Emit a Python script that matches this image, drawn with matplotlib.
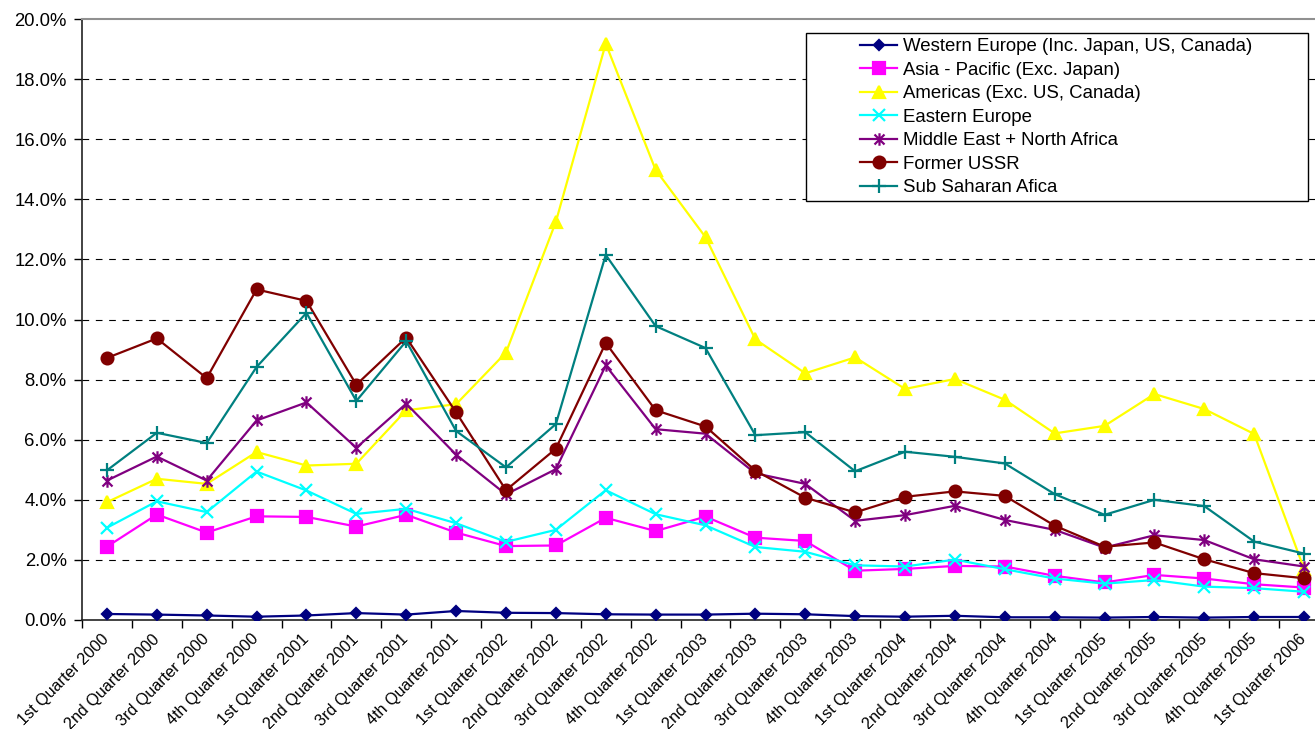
import matplotlib
matplotlib.use("Agg")
import matplotlib.pyplot as plt
from matplotlib.path import Path
from matplotlib.patches import Rectangle
import numpy as np

plt.rcParams['font.family'] = ['Liberation Sans', 'DejaVu Sans']

# quarters
quarters = []
for yr in range(2000, 2006):
    for q in ['1st', '2nd', '3rd', '4th']:
        quarters.append(q + ' Quarter ' + str(yr))
quarters.append('1st Quarter 2006')

# values in percent
western_europe = [0.20, 0.18, 0.15, 0.11, 0.15, 0.23, 0.18, 0.30, 0.24, 0.23, 0.19, 0.18, 0.18,
                  0.21, 0.19, 0.13, 0.11, 0.14, 0.09, 0.09, 0.08, 0.10, 0.08, 0.10, 0.10]
asia_pacific = [2.44, 3.51, 2.91, 3.45, 3.43, 3.11, 3.50, 2.91, 2.46, 2.48, 3.40, 2.96, 3.44,
                2.74, 2.63, 1.64, 1.70, 1.80, 1.78, 1.47, 1.25, 1.50, 1.38, 1.19, 1.08]
americas = [3.92, 4.70, 4.53, 5.59, 5.14, 5.20, 6.98, 7.18, 8.90, 13.25, 19.18, 14.98, 12.74,
            9.34, 8.21, 8.74, 7.69, 8.02, 7.33, 6.21, 6.46, 7.52, 7.02, 6.19, 1.70]
eastern_europe = [3.07, 3.95, 3.59, 4.94, 4.31, 3.53, 3.70, 3.22, 2.60, 3.00, 4.32, 3.52, 3.15,
                  2.43, 2.27, 1.82, 1.78, 2.01, 1.69, 1.38, 1.21, 1.33, 1.11, 1.06, 0.94]
middle_east = [4.64, 5.44, 4.64, 6.64, 7.24, 5.73, 7.20, 5.50, 4.18, 5.02, 8.47, 6.35, 6.20,
               4.88, 4.53, 3.30, 3.49, 3.80, 3.33, 3.00, 2.41, 2.82, 2.66, 2.02, 1.78]
former_ussr = [8.72, 9.37, 8.05, 11.00, 10.62, 7.83, 9.40, 6.91, 4.32, 5.70, 9.22, 6.98, 6.44,
               4.97, 4.07, 3.58, 4.10, 4.28, 4.13, 3.14, 2.44, 2.58, 2.02, 1.56, 1.39]
sub_saharan = [4.98, 6.23, 5.89, 8.42, 10.22, 7.29, 9.28, 6.29, 5.08, 6.52, 12.15, 9.78, 9.05,
               6.15, 6.25, 4.95, 5.60, 5.43, 5.21, 4.19, 3.50, 4.00, 3.79, 2.61, 2.21]

# excel style asterisk: x with a vertical bar
star = Path([(0, -1), (0, 1), (-0.8, -0.8), (0.8, 0.8), (-0.8, 0.8), (0.8, -0.8)],
            [Path.MOVETO, Path.LINETO, Path.MOVETO, Path.LINETO, Path.MOVETO, Path.LINETO])

series = [
    ('Western Europe (Inc. Japan, US, Canada)', western_europe, '#000080', 'D', 5.5),
    ('Asia - Pacific (Exc. Japan)', asia_pacific, '#FF00FF', 's', 8.5),
    ('Americas (Exc. US, Canada)', americas, '#FFFF00', '^', 9),
    ('Eastern Europe', eastern_europe, '#00FFFF', 'x', 8),
    ('Middle East + North Africa', middle_east, '#800080', star, 9),
    ('Former USSR', former_ussr, '#800000', 'o', 8.5),
    ('Sub Saharan Afica', sub_saharan, '#008080', '+', 9.5),
]

fig = plt.figure(figsize=(13.15, 7.29), dpi=100)
ax = fig.add_axes([82 / 1315, 109 / 729, 1247 / 1315, 601 / 729])

x = np.arange(len(quarters))
for name, vals, col, mk, ms in series:
    ax.plot(x, vals, color=col, marker=mk, markersize=ms, linewidth=1.6,
            markeredgewidth=1.6, label=name, zorder=3)

ax.set_xlim(-0.5, len(quarters) - 0.5)
ax.set_ylim(0, 20)
yt = np.arange(0, 21, 2)
ax.set_yticks(yt)
ax.set_yticklabels(['%.1f%%' % v for v in yt], fontsize=13.3)
for v in yt[1:-1]:
    ax.axhline(v, color='black', linewidth=0.8, linestyle=(0, (6, 6)), zorder=1)

ax.set_xticks(x)
ax.set_xticklabels(quarters, rotation=45, ha='right', va='center',
                   rotation_mode='anchor', fontsize=11.6)
ax.set_xticks(np.arange(-0.5, len(quarters), 1), minor=True)
ax.tick_params(axis='x', which='major', length=0, pad=12)
ax.tick_params(axis='x', which='minor', length=6, width=1, direction='out')
ax.tick_params(axis='y', length=6, width=1, direction='out', pad=5)

for s in ['left', 'bottom']:
    ax.spines[s].set_color('#222222')
    ax.spines[s].set_linewidth(1.2)
ax.spines['top'].set_color('#909090')
ax.spines['top'].set_linewidth(1.5)
ax.spines['right'].set_visible(False)

# legend with excel-like box
fig.patches.append(Rectangle((806 / 1315, 1 - 201 / 729), 502 / 1315, 168 / 729,
                             transform=fig.transFigure, facecolor='white',
                             edgecolor='black', linewidth=1, zorder=5))
leg = fig.legend(loc='upper left', bbox_to_anchor=(860 / 1315, 1 - 38 / 729),
                 frameon=False, fontsize=13.4, handlelength=2.0, handletextpad=0.3,
                 labelspacing=0.35, borderpad=0, borderaxespad=0)
leg.set_zorder(6)

fig.savefig('out.png', dpi=100)
